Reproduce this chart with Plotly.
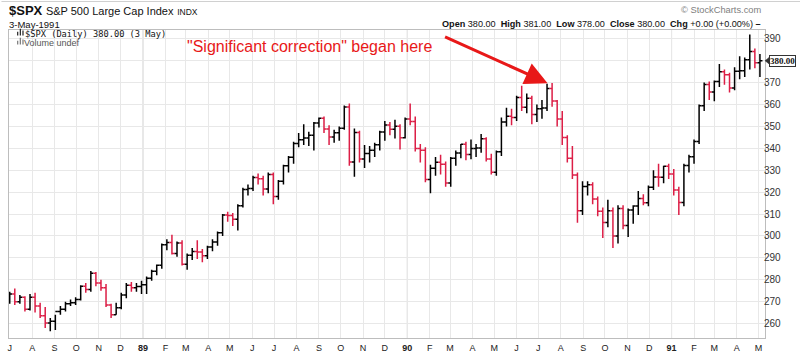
import pandas as pd
import plotly.graph_objects as go

# Weekly bars (week ending Friday), S&P 500 Large Cap Index, Jul 1988 - May 1991
week_end = pd.date_range("1988-07-01", "1991-05-03", freq="W-FRI")

opens = [
    # 1988
    270.6, 273.5, 270.0, 272.0, 266.5, 272.0, 268.0, 263.5, 260.2, 261.1, 265.5, 266.5, 269.0,
    269.5, 271.0, 277.0, 275.5, 283.0, 278.5, 276.3, 268.5, 264.0, 267.2, 273.0, 277.5, 276.3, 276.9,
    # 1989
    277.7, 280.7, 283.9, 286.6, 296.0, 297.0, 292.0, 296.8, 287.1, 291.2, 292.9, 292.7, 290.9,
    294.9, 297.2, 301.4, 309.6, 309.3, 307.6, 313.8, 321.2, 321.6, 326.7, 326.1, 321.4, 328.0,
    318.0, 324.9, 332.0, 335.9, 342.2, 343.9, 344.7, 346.0, 351.5, 353.7, 348.8, 345.1, 347.1,
    349.2, 358.8, 333.7, 347.2, 335.1, 337.6, 339.1, 341.6, 347.4, 350.6, 348.7, 350.1, 344.8,
    # 1990
    353.4, 352.2, 339.9, 339.1, 325.8, 330.9, 333.6, 332.7, 324.2, 335.5, 337.9, 341.9, 337.2,
    339.9, 340.1, 344.3, 335.1, 329.1, 338.4, 352.0, 354.6, 354.0, 363.2, 358.7, 362.9, 355.4,
    358.0, 358.4, 367.3, 361.6, 353.4, 344.9, 335.5, 327.8, 311.5, 322.6, 323.4, 316.8, 311.3,
    306.1, 311.5, 300.0, 312.5, 304.7, 311.8, 313.7, 317.1, 315.1, 322.2, 326.9, 326.8, 331.8,
    # 1991
    328.3, 321.0, 315.2, 332.2, 336.1, 343.1, 359.4, 369.1, 365.7, 370.5, 374.9, 373.6, 367.5,
    375.2, 375.4, 380.4, 384.2, 379.0,
]
highs = [
    274.5, 276.0, 273.0, 272.5, 273.5, 274.0, 269.5, 267.5, 262.5, 264.0, 268.0, 270.0, 271.0,
    272.0, 277.5, 278.5, 284.0, 283.5, 280.0, 278.0, 269.0, 269.5, 274.0, 278.5, 279.0, 278.5, 279.5,
    281.5, 284.5, 287.0, 296.5, 298.5, 300.5, 297.5, 298.0, 292.0, 294.5, 298.0, 294.0, 295.5,
    298.5, 302.0, 310.0, 311.0, 310.5, 314.5, 322.0, 323.5, 327.5, 328.5, 327.5, 329.0, 329.0,
    325.5, 332.5, 336.5, 343.0, 347.0, 351.0, 347.5, 352.0, 354.0, 354.5, 350.5, 348.5, 350.0,
    359.5, 360.5, 349.0, 348.0, 341.5, 341.0, 342.5, 348.0, 352.5, 352.0, 353.0, 351.0, 354.0,
    360.5, 354.5, 342.0, 340.5, 332.5, 336.0, 337.0, 334.0, 336.0, 339.0, 342.0, 343.0, 344.0,
    342.0, 346.5, 345.0, 337.5, 339.0, 354.0, 358.5, 358.0, 364.0, 368.5, 365.0, 364.0, 360.0,
    362.0, 369.5, 369.8, 362.0, 357.0, 346.0, 341.0, 329.0, 325.0, 325.0, 324.5, 318.0, 313.0,
    316.5, 313.0, 314.0, 314.0, 312.5, 314.0, 320.5, 319.0, 323.0, 330.0, 333.0, 332.0, 333.0,
    330.5, 322.5, 333.0, 337.0, 344.0, 360.0, 370.0, 370.5, 371.0, 378.5, 376.0, 374.5, 377.0,
    382.0, 381.5, 392.0, 385.5, 383.0,
]
lows = [
    269.0, 268.5, 269.0, 265.5, 266.0, 265.0, 262.5, 258.0, 256.5, 257.0, 264.0, 265.5, 268.0,
    268.5, 270.5, 274.0, 274.5, 277.0, 275.0, 267.5, 262.5, 264.0, 266.5, 271.5, 274.5, 274.5, 273.5,
    273.5, 279.5, 282.0, 285.0, 293.5, 291.5, 290.5, 286.5, 284.5, 289.0, 289.5, 288.0, 289.5,
    293.0, 295.5, 300.0, 306.5, 304.5, 302.5, 313.0, 318.5, 320.5, 323.5, 318.5, 319.5, 314.5,
    316.5, 323.5, 329.0, 333.0, 340.5, 341.5, 341.0, 339.0, 349.5, 347.0, 341.5, 342.5, 343.5,
    348.5, 332.0, 327.0, 333.5, 331.0, 333.5, 336.0, 339.0, 343.5, 346.0, 344.5, 339.5, 344.5,
    350.5, 338.5, 333.5, 324.5, 319.5, 327.5, 328.0, 322.5, 322.5, 332.0, 335.5, 334.5, 335.0,
    336.0, 338.0, 334.0, 328.0, 327.5, 336.5, 350.0, 350.5, 352.5, 357.0, 356.0, 351.0, 352.0,
    353.5, 357.0, 359.0, 350.0, 341.5, 333.5, 326.0, 306.0, 309.5, 318.5, 314.5, 309.0, 299.0,
    304.0, 294.5, 296.5, 303.0, 299.5, 305.5, 309.5, 314.0, 313.5, 321.0, 322.5, 324.0, 326.0,
    318.5, 309.5, 313.5, 329.0, 333.0, 342.0, 357.0, 362.0, 361.5, 368.0, 369.0, 365.5, 366.5,
    371.5, 372.5, 376.0, 376.5, 372.5,
]
closes = [
    273.5, 270.0, 272.0, 266.5, 272.0, 268.0, 263.5, 260.2, 261.1, 265.5, 266.5, 269.0, 269.5,
    271.0, 277.0, 275.5, 283.0, 278.5, 276.3, 268.5, 264.0, 267.2, 273.0, 277.5, 276.3, 276.9, 277.7,
    280.7, 283.9, 286.6, 296.0, 297.0, 292.0, 296.8, 287.1, 291.2, 292.9, 292.7, 290.9, 294.9,
    297.2, 301.4, 309.6, 309.3, 307.6, 313.8, 321.2, 321.6, 326.7, 326.1, 321.4, 328.0, 318.0,
    324.9, 332.0, 335.9, 342.2, 343.9, 344.7, 346.0, 351.5, 353.7, 348.8, 345.1, 347.1, 349.2,
    358.8, 333.7, 347.2, 335.1, 337.6, 339.1, 341.6, 347.4, 350.6, 348.7, 350.1, 344.8, 353.4,
    352.2, 339.9, 339.1, 325.8, 330.9, 333.6, 332.7, 324.2, 335.5, 337.9, 341.9, 337.2, 339.9,
    340.1, 344.3, 335.1, 329.1, 338.4, 352.0, 354.6, 354.0, 363.2, 358.7, 362.9, 355.4, 358.0,
    358.4, 367.3, 361.6, 353.4, 344.9, 335.5, 327.8, 311.5, 322.6, 323.4, 316.8, 311.3, 306.1,
    311.5, 300.0, 312.5, 304.7, 311.8, 313.7, 317.1, 315.1, 322.2, 326.9, 326.8, 331.8, 328.3,
    321.0, 315.2, 332.2, 336.1, 343.1, 359.4, 369.1, 365.7, 370.5, 374.9, 373.6, 367.5, 375.2,
    375.4, 380.4, 384.2, 379.0, 380.0,
]

month_starts = pd.date_range("1988-07-01", "1991-05-01", freq="MS")
month_labels = ["J", "A", "S", "O", "N", "D",
                "89", "F", "M", "A", "M", "J", "J", "A", "S", "O", "N", "D",
                "90", "F", "M", "A", "M", "J", "J", "A", "S", "O", "N", "D",
                "91", "F", "M", "A", "M"]
year_starts = ["1989-01-01", "1990-01-01", "1991-01-01"]
price_ticks = [260, 270, 280, 290, 300, 310, 320, 330, 340, 350, 360, 370, 380, 390]
last_close = 380.00

UP = "#000000"
DOWN = "#dc1e46"
FONT = "Liberation Sans, Arial, sans-serif"

fig = go.Figure()
fig.add_trace(go.Ohlc(
    x=week_end, open=opens, high=highs, low=lows, close=closes,
    increasing=dict(line=dict(color=UP, width=1.5)),
    decreasing=dict(line=dict(color=DOWN, width=1.5)),
    tickwidth=0.5, hoverinfo="skip", showlegend=False,
))

tick_text = [f"<b>{t}</b>" if t.isdigit() else t for t in month_labels]
y_text = ["" if v == last_close else str(v) for v in price_ticks]

shapes = []
for ys in year_starts:
    shapes.append(dict(type="line", xref="x", yref="paper", x0=ys, x1=ys, y0=0, y1=1,
                       line=dict(color="#cfcfcf", width=1), layer="below"))
# top frame line of the chart image
shapes.append(dict(type="line", xref="paper", yref="paper", x0=-0.01, x1=1.05,
                   y0=1.0925, y1=1.0925, line=dict(color="#d0d0d0", width=1)))
# small pointer of the price box
shapes.append(dict(type="path", xref="paper", yref="y",
                   path=f"M 1.0,{last_close} L 1.0055,{last_close + 1.5} L 1.0055,{last_close - 1.5} Z",
                   fillcolor="#333", line=dict(color="#333", width=0.5)))
# tiny icons in the in-plot legend
for i, h in enumerate([0.012, 0.022, 0.016]):
    xx = 0.0115 + i * 0.0035
    shapes.append(dict(type="line", xref="paper", yref="paper", x0=xx, x1=xx,
                       y0=0.982, y1=0.982 + h, line=dict(color="#222", width=1.2)))
    shapes.append(dict(type="line", xref="paper", yref="paper", x0=xx, x1=xx,
                       y0=0.953, y1=0.953 + h, line=dict(color="#777", width=1.2)))

annotations = [
    dict(xref="paper", yref="paper", x=-0.003, y=1.064, xanchor="left", yanchor="middle",
         text="<b>$SPX</b> <span style='font-size:11px'>S&amp;P 500 Large Cap Index</span> "
              "<span style='font-size:8.5px'>INDX</span>",
         font=dict(family=FONT, size=13, color="#111"), showarrow=False),
    dict(xref="paper", yref="paper", x=-0.003, y=1.019, xanchor="left", yanchor="middle",
         text="3-May-1991", font=dict(family=FONT, size=9.5, color="#111"), showarrow=False),
    dict(xref="paper", yref="paper", x=0.9974, y=1.066, xanchor="right", yanchor="middle",
         text="© StockCharts.com", font=dict(family=FONT, size=9.3, color="#808080"),
         showarrow=False),
    dict(xref="paper", yref="paper", x=0.9974, y=1.019, xanchor="right", yanchor="middle",
         text="<b>Open</b> 380.00  <b>High</b> 381.00  <b>Low</b> 378.00  <b>Close</b> 380.00  "
              "<b>Chg</b> +0.00 (+0.00%) <b>–</b>",
         font=dict(family=FONT, size=9.1, color="#111"), showarrow=False),
    dict(xref="paper", yref="paper", x=0.0185, y=0.987, xanchor="left", yanchor="middle",
         text="$SPX (Daily) 380.00 (3 May)",
         font=dict(family="DejaVu Sans Mono, monospace", size=8.7, color="#111"), showarrow=False),
    dict(xref="paper", yref="paper", x=0.0175, y=0.958, xanchor="left", yanchor="middle",
         text="Volume undef", font=dict(family=FONT, size=9, color="#555"), showarrow=False),
    dict(xref="paper", yref="paper", x=0.2322, y=0.9457, xanchor="left", yanchor="middle",
         text="\"Significant correction\" began here",
         font=dict(family=FONT, size=16, color="#e81818"), showarrow=False),
    dict(xref="paper", yref="paper", x=0.7124, y=0.8275, text="", showarrow=True,
         arrowhead=2, arrowsize=1.5, arrowwidth=3, arrowcolor="#e81818",
         ax=-104, ay=-47, axref="pixel", ayref="pixel"),
    dict(xref="paper", yref="y", x=1.0055, y=last_close, xanchor="left", yanchor="middle",
         text=f"<b>{last_close:.2f}</b>", font=dict(family="Liberation Serif, serif", size=9, color="#111"),
         bordercolor="#333", borderwidth=1, borderpad=0, bgcolor="white", showarrow=False),
]

fig.update_layout(
    width=800, height=360,
    margin=dict(l=7, r=35, t=30, b=17),
    paper_bgcolor="white", plot_bgcolor="white",
    font=dict(family=FONT, size=10, color="#222"),
    showlegend=False,
    xaxis=dict(
        type="date", range=["1988-06-30", "1991-05-10"],
        tickvals=month_starts, ticktext=tick_text, tickangle=0,
        tickfont=dict(family=FONT, size=9, color="#222"),
        showgrid=True, gridcolor="#e8e8e8", gridwidth=1,
        showline=True, linecolor="#bdbdbd", linewidth=1, mirror=True,
        ticks="", zeroline=False, rangeslider=dict(visible=False), fixedrange=True,
        ticklabelstandoff=1,
    ),
    yaxis=dict(
        side="right", range=[253.4, 394.0],
        tickvals=price_ticks, ticktext=y_text,
        tickfont=dict(family=FONT, size=10, color="#333"),
        showgrid=True, gridcolor="#e8e8e8", gridwidth=1,
        showline=True, linecolor="#bdbdbd", linewidth=1, mirror=True,
        ticks="", zeroline=False, fixedrange=True,
        ticklabelstandoff=-4,
    ),
    shapes=shapes,
    annotations=annotations,
)

fig.write_html("out.html", config={"displayModeBar": False},
               post_script="document.body.style.margin='0px';")
